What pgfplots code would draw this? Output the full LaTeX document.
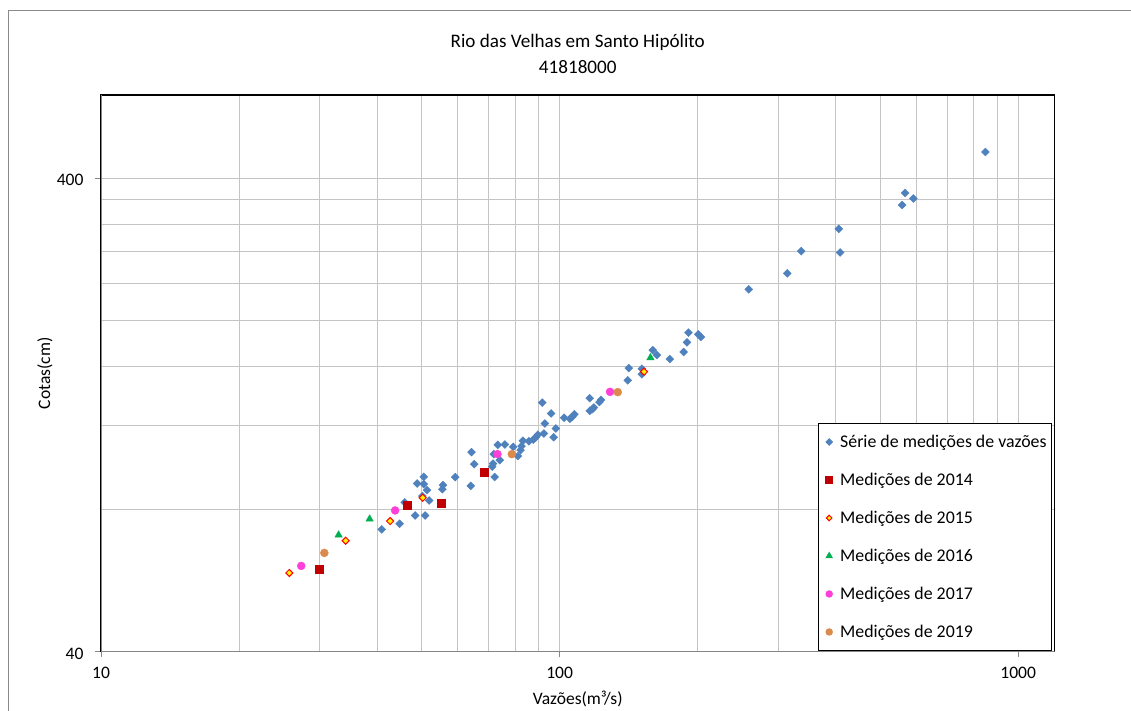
\documentclass[border=0pt]{standalone}
\usepackage{pgfplots}
\pgfplotsset{compat=1.18}
\usepackage{fontspec}
\setmainfont{Carlito}
\definecolor{cblue}{HTML}{4F81BD}
\definecolor{cred}{HTML}{C00000}
\definecolor{cgreen}{HTML}{00B050}
\definecolor{cpink}{HTML}{FF40D8}
\definecolor{corange}{HTML}{DB8A4C}
\definecolor{caxis}{HTML}{868686}
\definecolor{cgrid}{HTML}{C4C4C4}
\definecolor{cframe}{HTML}{8A8A8A}

\pgfplotstableread{
x y
40.93 72.45
44.80 74.49
45.94 82.62
48.41 77.55
50.90 77.55
51.93 83.42
50.54 93.58
48.90 90.58
50.54 90.31
51.41 87.72
50.22 85.22
55.71 89.88
55.51 88.14
59.24 93.44
64.02 89.57
64.25 105.5
65.13 99.56
71.30 98.30
71.60 99.80
72.20 93.50
73.32 109.3
71.86 104.5
74.07 101.5
75.97 109.5
79.23 108.3
81.10 103.5
82.19 106.6
82.60 108.7
83.16 111.5
85.70 111.3
87.61 112.2
88.63 113.3
89.66 114.9
92.41 115.5
97.04 113.5
98.10 118.4
92.88 121.3
95.82 127.4
91.67 134.3
102.3 124.7
105.3 124.2
106.6 125.4
107.7 126.9
116.3 137.2
116.3 129.0
117.9 130.1
118.8 131.1
122.1 134.6
123.1 136.1
140.8 149.7
141.5 158.9
151.1 158.4
151.1 154.2
159.6 173.4
162.9 169.3
173.9 166.0
186.5 171.8
189.6 180.1
191.0 188.7
200.5 187.2
203.3 184.8
258.6 233.0
313.6 251.8
336.5 280.6
406.1 312.7
408.8 278.8
558.1 351.3
566.7 372.4
590.8 362.5
848.4 454.6
}\serie

\pgfplotstableread{
x y
29.88 59.58
46.50 81.42
55.15 82.38
68.48 95.56
}\mA

\pgfplotstableread{
x y
25.74 58.62
34.16 68.58
42.70 75.47
50.29 84.52
152.8 156.1
}\mB

\pgfplotstableread{
x y
32.97 70.51
38.53 76.22
157.8 167.1
}\mC

\pgfplotstableread{
x y
27.33 60.66
43.78 79.47
73.21 104.5
128.8 141.5
}\mD

\pgfplotstableread{
x y
30.69 64.62
78.68 104.5
133.9 141.3
}\mE

\begin{document}
\begin{tikzpicture}[x=1bp,y=1bp]
\path[use as bounding box] (0,0) rectangle (1131,711);
\draw[cframe, line width=1bp] (8.3,0) -- (8.3,700.3) -- (1131,700.3);
\begin{axis}[
  at={(101bp,59.5bp)}, anchor=south west,
  scale only axis, width=953.5bp, height=556.5bp,
  xmode=log, ymode=log,
  xmin=10, xmax=1200, ymin=40, ymax=600,
  xtick={10,100,1000}, xticklabels={10,100,1000},
  ytick={40,400}, yticklabels={40,400},
  minor xtick={20,30,40,50,60,70,80,90,200,300,400,500,600,700,800,900},
  minor ytick={80,120,160,200,240,280,320,360},
  grid=both,
  major grid style={draw=cgrid, line width=1bp},
  minor grid style={draw=cgrid, line width=1bp},
  axis line style={draw=black, line width=1.1bp},
  tick pos=left,
  tick align=outside,
  major tick length=6bp, minor tick length=0bp,
  tick style={draw=caxis, line width=1bp},
  ticklabel style={font=\fontsize{17.6}{20}\selectfont},
  xticklabel style={yshift=-6bp},
  yticklabel style={xshift=-8bp, yshift=-2bp},
  /pgf/number format/assume math mode=true,
  xlabel={Vazões(m³/s)}, ylabel={Cotas(cm)},
  every axis x label/.style={at={(axis description cs:0.5,-0.0845)}, anchor=center, font=\fontsize{17.6}{20}\selectfont},
  every axis y label/.style={at={(axis description cs:-0.0587,0.5)}, anchor=center, rotate=90, font=\fontsize{17.6}{20}\selectfont},
  title={Rio das Velhas em Santo Hipólito\\41818000},
  every axis title/.style={at={(axis description cs:0.5,1)}, anchor=south, yshift=17.5bp, align=center, font=\fontsize{19.2}{26}\selectfont},
  legend cell align=left,
  legend style={at={(axis description cs:1,0)}, anchor=south east, xshift=-2.5bp, yshift=0.5bp,
    draw=black, line width=1bp, fill=white,
    font=\fontsize{17.9}{20}\selectfont,
    inner xsep=5bp, inner ysep=10.5bp, row sep=22bp,
    nodes={inner sep=0bp, text height=14bp, text depth=2bp},
    /tikz/every odd column/.style={column sep=5bp}},
  legend image code/.code={\path[draw=none, fill=none] (0bp,0bp) -- (12bp,0bp); \draw[#1, every mark/.append style={scale=0.8}] plot coordinates {(6bp,0bp)};},
]
\addplot[only marks, mark=square*, mark size=2.8bp, draw=cblue, fill=cblue, mark options={rotate=45}] table {\serie};
\addlegendentry{Série de medições de vazões}
\addplot[only marks, mark=square*, mark size=4bp, draw=cred, fill=cred] table {\mA};
\addlegendentry{Medições de 2014}
\addplot[only marks, mark=square*, mark size=2.5bp, draw=red, fill=yellow, line width=1bp, mark options={rotate=45}] table {\mB};
\addlegendentry{Medições de 2015}
\addplot[only marks, mark=triangle*, mark size=4.3bp, draw=cgreen, fill=cgreen] table {\mC};
\addlegendentry{Medições de 2016}
\addplot[only marks, mark=*, mark size=4bp, draw=cpink, fill=cpink] table {\mD};
\addlegendentry{Medições de 2017}
\addplot[only marks, mark=*, mark size=4bp, draw=corange, fill=corange] table {\mE};
\addlegendentry{Medições de 2019}
\draw[caxis, line width=1.2bp] (rel axis cs:0,1) -- (rel axis cs:0,0) -- (rel axis cs:1,0);
\end{axis}
\end{tikzpicture}
\end{document}
